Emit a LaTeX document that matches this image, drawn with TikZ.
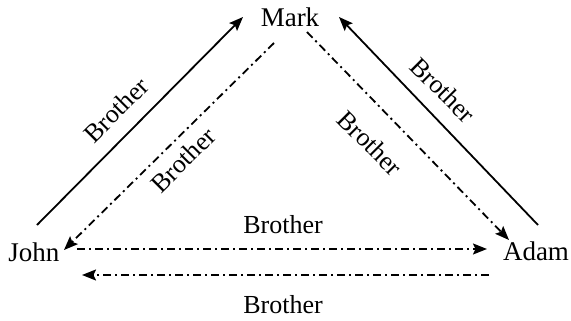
\documentclass[tikz,border=0pt]{standalone}
\usepackage{fontspec}
\setmainfont{Liberation Serif}
\usetikzlibrary{arrows.meta}
\begin{document}
\begin{tikzpicture}[x=1pt,y=-1pt,
  person/.style={inner sep=0pt,anchor=base,font=\fontsize{27}{32}\selectfont},
  rel/.style={inner sep=0pt,font=\fontsize{26}{31}\selectfont},
  flat/.style={inner sep=0pt,anchor=base,font=\fontsize{26}{31}\selectfont},
  tip/.style={-{Stealth[length=14pt,width=11pt,inset=2.5pt]}},
  firm/.style={tip,line width=1.8pt},
  dotdash/.style={tip,line width=1.8pt,dash pattern=on 8pt off 4pt on 2pt off 4pt}]
\useasboundingbox (0,0) rectangle (571,321);
% people
\node[person] (Mark) at (290,27) {Mark};
\node[person] (John) at (34,261) {John};
\node[person] (Adam) at (536,260) {Adam};
% relations
\draw[firm] ([shift={(3,-36)}]John.base) -- ([shift={(-47,-10)}]Mark.base);
\draw[firm] ([shift={(2,-35)}]Adam.base) -- ([shift={(49,-10)}]Mark.base);
\draw[dotdash] ([shift={(-16,16)}]Mark.base) -- ([shift={(30,-11)}]John.base);
\draw[dotdash] ([shift={(17,5)}]Mark.base) -- ([shift={(-27,-20)}]Adam.base);
\draw[dotdash] ([shift={(43,-12)}]John.base) -- ([shift={(-49,-11)}]Adam.base);
\draw[dotdash] ([shift={(-47,15)}]Adam.base) -- ([shift={(48,14)}]John.base);
% labels
\node[rel,rotate=45] (l1) at (116,110) {Brother};
\node[rel,rotate=45] (l2) at (183,160) {Brother};
\node[rel,rotate=-45] (l3) at (370,143) {Brother};
\node[rel,rotate=-45] (l4) at (443,90) {Brother};
\node[flat] (l5) at (283,233) {Brother};
\node[flat] (l6) at (283,313) {Brother};
\end{tikzpicture}
\end{document}
